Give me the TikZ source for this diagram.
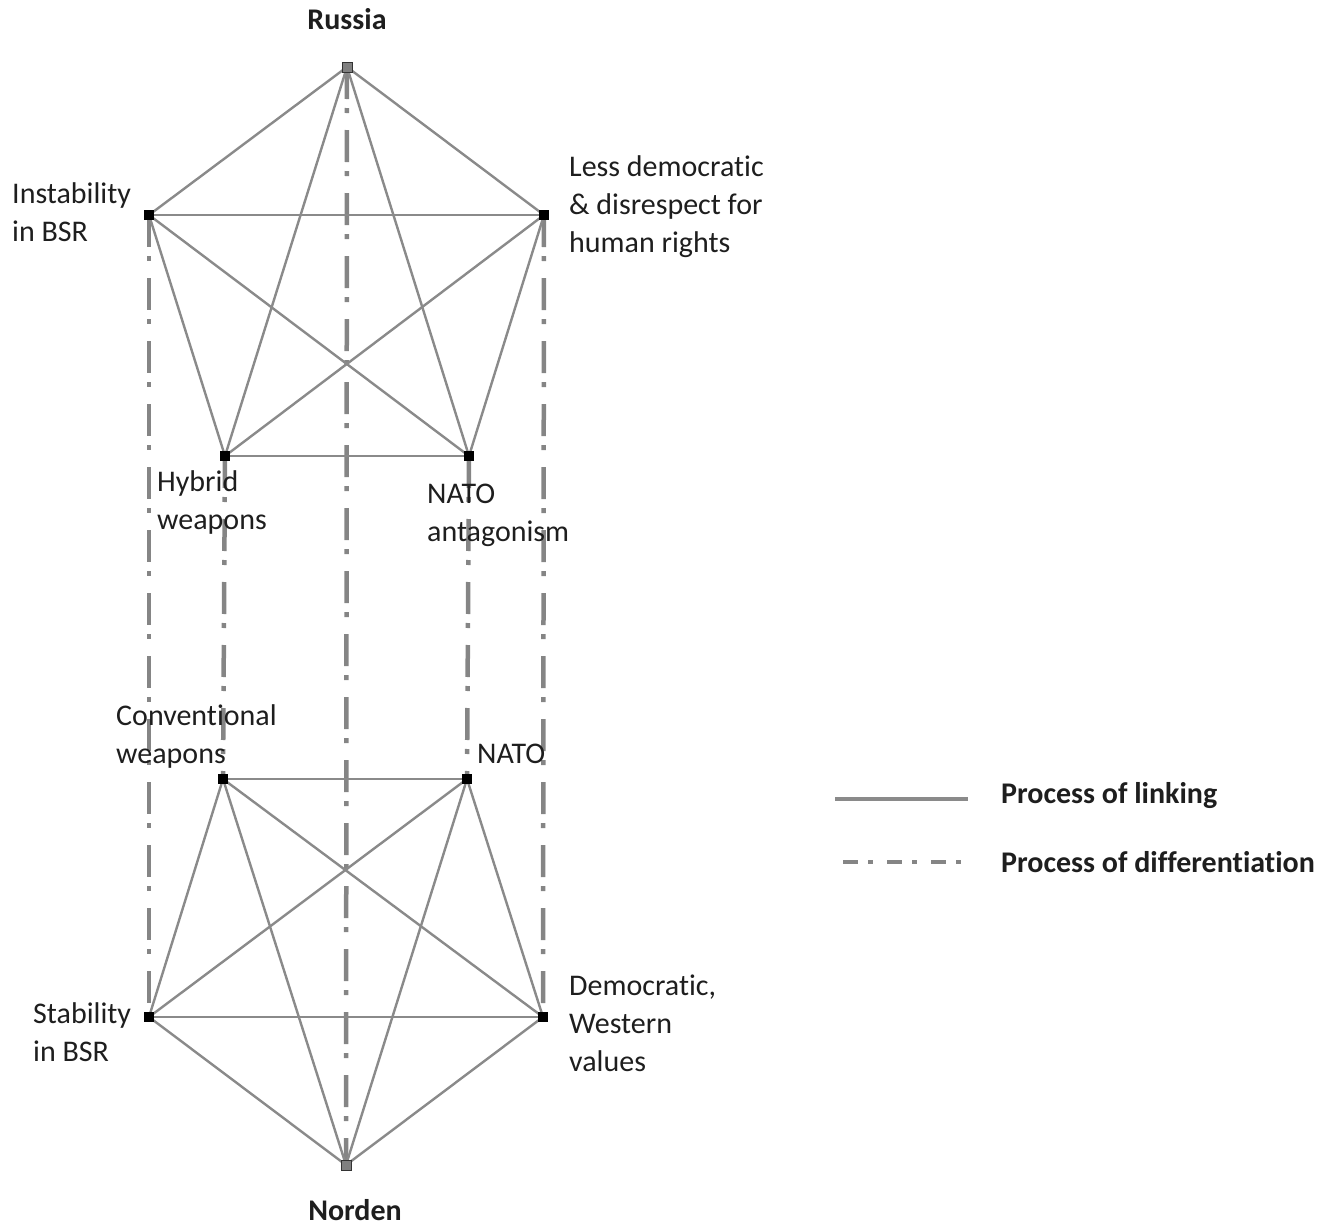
\documentclass[tikz,border=0pt]{standalone}
\usepackage{fontspec}
\setmainfont{Carlito}[Ligatures=NoCommon]
\definecolor{linkgray}{HTML}{8A8A8A}
\definecolor{difgray}{HTML}{858585}
\definecolor{textc}{HTML}{1E1E1E}
\begin{document}
\begin{tikzpicture}[x=1pt,y=-1pt,
  lnk/.style={draw=linkgray, line width=2.4pt},
  dif/.style={draw=difgray, line width=4.5pt, dash pattern=on 32pt off 9pt on 5pt off 17pt},
  legdif/.style={draw=difgray, line width=4.5pt, dash pattern=on 15pt off 10pt on 5pt off 14pt},
  pt/.style={fill=black, minimum size=10pt, inner sep=0pt},
  ept/.style={fill=gray, draw=black!80, minimum size=10pt, inner sep=0pt, line width=1pt},
  lab/.style={anchor=base west, inner sep=0pt, align=left, font=\fontsize{30}{38}\selectfont, text=textc},
  blab/.style={anchor=base, inner sep=0pt, font=\fontsize{30}{36}\selectfont\bfseries, text=textc},
  leglab/.style={anchor=base west, inner sep=0pt, font=\fontsize{30}{36}\selectfont\bfseries, text=textc}]
\useasboundingbox (0,0) rectangle (1334,1226);
% points
\coordinate (R) at (347,67);
\coordinate (I) at (149,215);
\coordinate (L) at (544,215);
\coordinate (H) at (225,456);
\coordinate (A) at (469,456);
\coordinate (C) at (223,779);
\coordinate (N) at (467,779);
\coordinate (S) at (149,1017);
\coordinate (D) at (543,1017);
\coordinate (O) at (346,1165);
% differentiation
\draw[dif] (R) -- (O);
\draw[dif] (I) -- (S);
\draw[dif] (L) -- (D);
\draw[dif] (H) -- (C);
\draw[dif] (A) -- (N);
% linking top
\foreach \a/\b in {R/I,R/L,R/H,R/A,I/L,I/H,I/A,L/H,L/A,H/A}
  \draw[lnk] (\a) -- (\b);
% linking bottom
\foreach \a/\b in {O/S,O/D,O/C,O/N,S/D,S/C,S/N,D/C,D/N,C/N}
  \draw[lnk] (\a) -- (\b);
% markers
\node[ept] (mR) at (R) {};
\node[ept] (mO) at (O) {};
\foreach \p in {I,L,H,A,C,N,S,D}
  \node[pt] (m\p) at (\p) {};
% labels (base = last line baseline)
\node[blab] (tR) at (347,30) {Russia};
\node[blab] (tO) at (355,1220) {Norden};
\node[lab] (tI) at (12,241) {Instability\\in BSR};
\node[lab] (tL) at (569,252) {Less democratic\\\& disrespect for\\human rights};
\node[lab] (tH) at (157,529) {Hybrid\\weapons};
\node[lab] (tA) at (427,541) {NATO\\antagonism};
\node[lab] (tC) at (116,763) {Conventional\\weapons};
\node[lab] (tN) at (477,763) {NATO};
\node[lab] (tS) at (33,1061) {Stability\\in BSR};
\node[lab] (tD) at (569,1071) {Democratic,\\Western\\values};
% legend
\coordinate (l1a) at (835,799);
\coordinate (l1b) at (968,799);
\coordinate (l2a) at (843,862);
\coordinate (l2b) at (968,862);
\draw[draw=linkgray, line width=4.5pt] (l1a) -- (l1b);
\draw[legdif] (l2a) -- (l2b);
\node[leglab] (g1) at (1001,803) {Process of linking};
\node[leglab] (g2) at (1001,872) {Process of differentiation};
\end{tikzpicture}
\end{document}
